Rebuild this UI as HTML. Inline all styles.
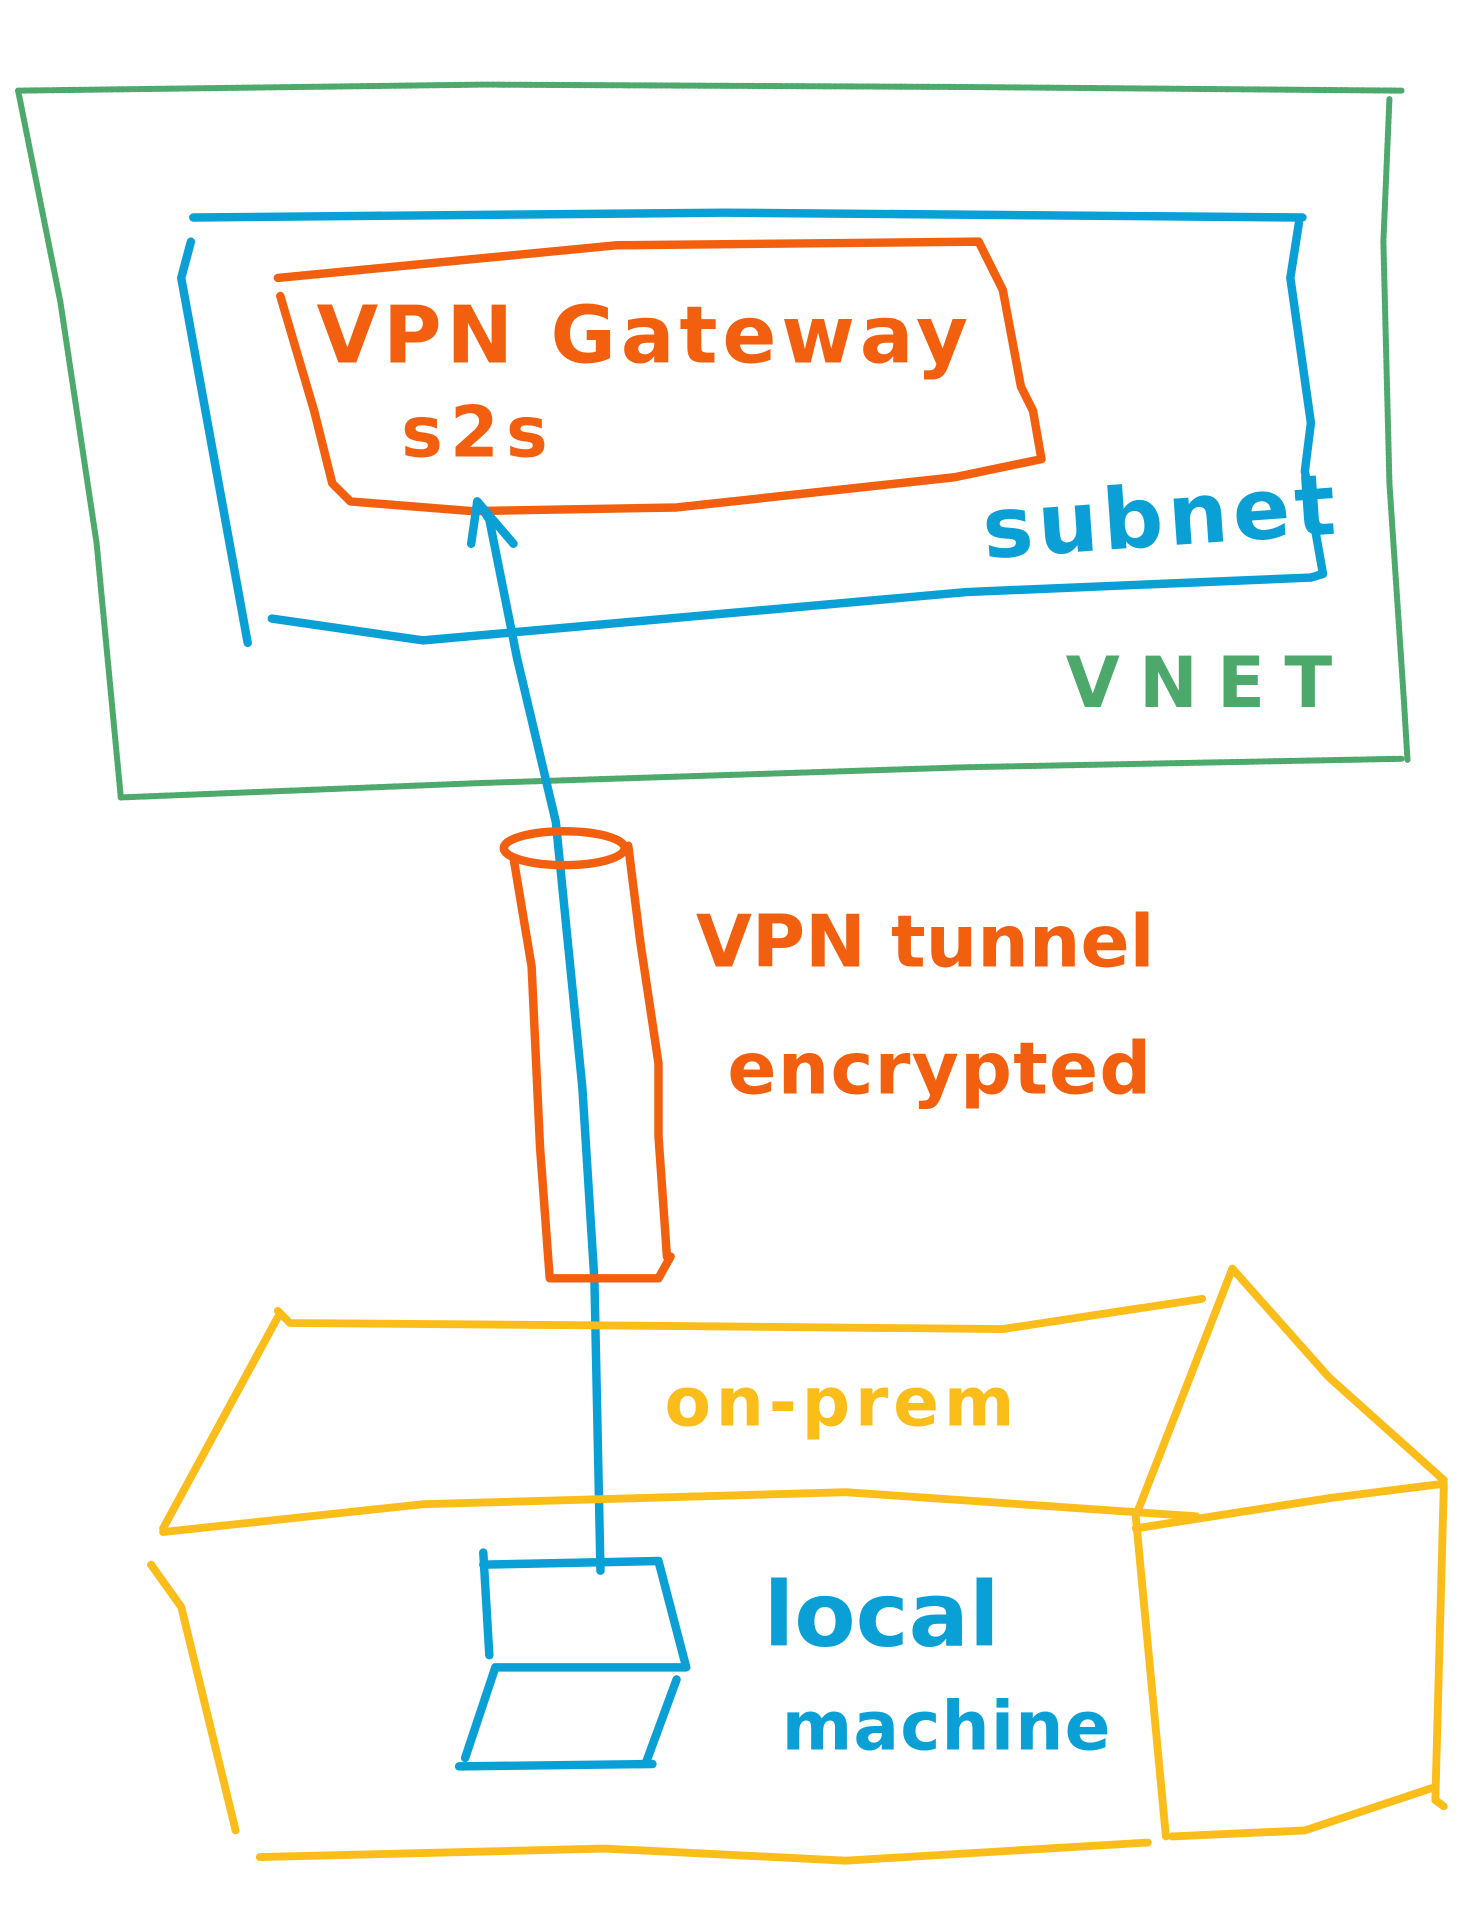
<!DOCTYPE html>
<html><head><meta charset="utf-8"><style>
html,body{margin:0;padding:0;background:#fff;width:1474px;height:1909px;overflow:hidden}
svg{display:block}
text{font-family:"DejaVu Sans","Liberation Sans",sans-serif;font-weight:bold}
</style></head><body>
<svg width="1474" height="1909" viewBox="0 0 1220 1580" xmlns="http://www.w3.org/2000/svg">
<g fill="none" stroke-linecap="round" stroke-linejoin="round">
<g stroke="#2e9a52" stroke-width="5" stroke-dasharray="3 1.5" opacity="0.85">
<polyline points="15,75 400,70 800,72 1160,75"/>
<polyline points="1150,82 1145,200 1150,400 1162,580 1165,630"/>
<polyline points="100,660 400,648 800,635 1160,628"/>
<polyline points="15,75 50,250 80,450 100,660"/>
</g>
<g stroke="#0aa0d6" stroke-width="7">
<polyline points="160,180 600,176 1078,180"/>
<polyline points="1075,185 1068,230 1085,350 1080,390 1095,475 1085,478"/>
<polyline points="225,512 350,530 800,490 1085,478"/>
<polyline points="158,200 150,230 205,532"/>
</g>
<g stroke="#f2600f" stroke-width="7">
<polyline points="230,230 510,203 810,200 830,240 845,320 855,340 862,380 790,395 560,420 390,423 290,415 275,400 260,340 232,245"/>
</g>
<g stroke="#0aa0d6" stroke-width="7">
<polyline points="497,1300 492,1060 482,900 460,680 428,545 405,430 395,415"/>
<polyline points="390,450 395,415 425,450"/>
</g>
<g stroke="#f2600f" stroke-width="7">
<ellipse cx="467" cy="702" rx="50" ry="14"/>
<polyline points="425,710 440,800 447,950 455,1058 545,1058 555,1040"/>
<polyline points="520,700 530,780 545,880 545,940 552,1040"/>
</g>
<g stroke="#fbbd1a" stroke-width="6.5">
<polyline points="230,1085 240,1095 500,1097 830,1100 995,1075"/>
<polyline points="230,1090 135,1265"/>
<polyline points="135,1268 350,1245 700,1235 990,1255"/>
<polyline points="125,1295 150,1330 195,1515"/>
<polyline points="215,1537 500,1530 700,1540 950,1525"/>
<polyline points="1020,1050 940,1255 965,1520"/>
<polyline points="1020,1050 1100,1140 1195,1225"/>
<polyline points="940,1265 1100,1240 1195,1228"/>
<polyline points="1195,1230 1188,1490 1195,1495"/>
<polyline points="970,1520 1080,1515 1185,1480"/>
</g>
<g stroke="#0aa0d6" stroke-width="7">
<polyline points="400,1285 405,1370"/>
<polyline points="400,1295 545,1292 568,1380 410,1380 385,1455"/>
<polyline points="560,1390 535,1458"/>
<polyline points="380,1462 540,1460"/>
</g>
</g>
<text x="262" y="300" font-size="66" fill="#f2600f" letter-spacing="4">VPN Gateway</text>
<text x="332" y="378" font-size="58" fill="#f2600f" letter-spacing="6">s2s</text>
<text x="815" y="462" font-size="70" fill="#0aa0d6" letter-spacing="4" transform="rotate(-4 815 462)">subnet</text>
<text x="882" y="585" font-size="58" fill="#2e9a52" opacity="0.85" letter-spacing="16">VNET</text>
<text x="576" y="800" font-size="60" fill="#f2600f" letter-spacing="0">VPN tunnel</text>
<text x="602" y="905" font-size="60" fill="#f2600f" letter-spacing="1">encrypted</text>
<text x="550" y="1180" font-size="56" fill="#fbbd1a" letter-spacing="4">on-prem</text>
<text x="632" y="1362" font-size="74" fill="#0aa0d6">local</text>
<text x="647" y="1448" font-size="56" fill="#0aa0d6" letter-spacing="1">machine</text>
</svg>
</body></html>
